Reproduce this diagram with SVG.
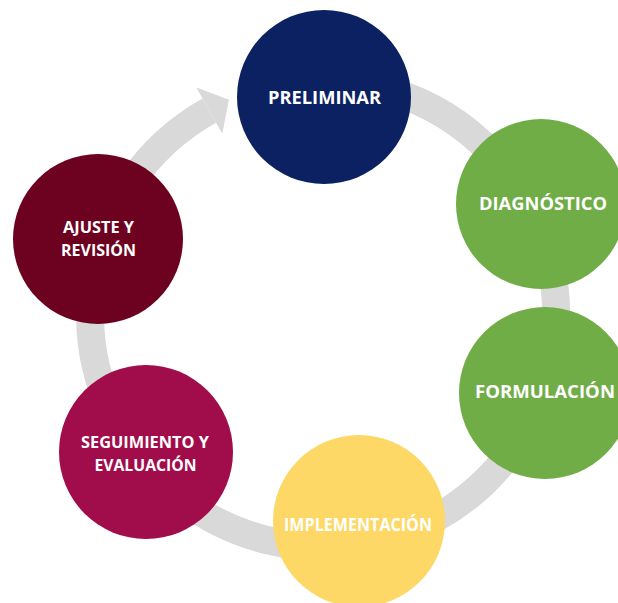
<svg xmlns="http://www.w3.org/2000/svg" width="618" height="603" viewBox="0 0 618 603">
  <style>
    .ring { fill: none; stroke: #d9d9d9; stroke-width: 28; }
    .head { fill: #d9d9d9; }
    .lbl { font-family: "Open Sans", "Liberation Sans", sans-serif; font-weight: 700; fill: #ffffff; text-anchor: middle; }
    .l1 { font-size: 17.5px; }
    .l2 { font-size: 16.5px; }
  </style>
  <rect width="618" height="603" fill="#ffffff"/>
  <g id="connectors">
    <path class="ring" d="M 282.5 84.5 A 233 233 0 1 1 209.3 110.6"/>
    <polygon class="head" points="196.4,87.5 228.9,99.7 222.3,133.8"/>
  </g>
  <g id="preliminar">
    <circle cx="324" cy="97" r="87" fill="#0b2161"/>
    <text class="lbl l1" x="324.5" y="104" textLength="113" lengthAdjust="spacingAndGlyphs">PRELIMINAR</text>
  </g>
  <g id="diagnostico">
    <circle cx="541" cy="204" r="85" fill="#70ad47"/>
    <text class="lbl l1" x="543" y="209.5" textLength="128" lengthAdjust="spacingAndGlyphs">DIAGNÓSTICO</text>
  </g>
  <g id="formulacion">
    <circle cx="545" cy="393" r="86" fill="#70ad47"/>
    <text class="lbl l1" x="545" y="398" textLength="140" lengthAdjust="spacingAndGlyphs">FORMULACIÓN</text>
  </g>
  <g id="implementacion">
    <circle cx="359" cy="521" r="86" fill="#fdd866"/>
    <text class="lbl l1" x="358" y="531" textLength="148" lengthAdjust="spacingAndGlyphs">IMPLEMENTACIÓN</text>
  </g>
  <g id="seguimiento">
    <circle cx="146" cy="452" r="87" fill="#a10c4a"/>
    <text class="lbl l2" x="145" y="447.5" textLength="128" lengthAdjust="spacingAndGlyphs">SEGUIMIENTO Y</text>
    <text class="lbl l2" x="145.5" y="470.5" textLength="102" lengthAdjust="spacingAndGlyphs">EVALUACIÓN</text>
  </g>
  <g id="ajuste">
    <circle cx="98" cy="239" r="85" fill="#6c0120"/>
    <text class="lbl l2" x="98.5" y="233" textLength="71" lengthAdjust="spacingAndGlyphs">AJUSTE Y</text>
    <text class="lbl l2" x="98.5" y="256" textLength="75" lengthAdjust="spacingAndGlyphs">REVISIÓN</text>
  </g>
</svg>
